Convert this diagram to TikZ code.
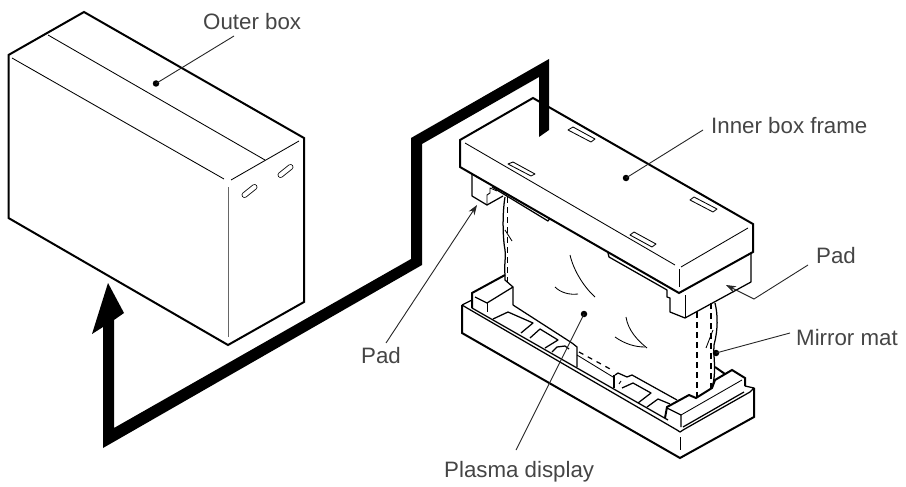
\documentclass[tikz,border=0pt]{standalone}
\usepackage{fontspec}
\setmainfont{Liberation Sans}
\usetikzlibrary{arrows.meta}
\definecolor{labelgrey}{gray}{0.27}
\tikzset{
  heavy/.style={line width=2pt,line join=miter,black},
  medium/.style={line width=1.25pt,line join=round,black},
  fine/.style={line width=0.85pt,line join=round,black},
  greyline/.style={line width=1pt,black!60},
  hidden/.style={line width=1.3pt,black,dash pattern=on 6pt off 4pt},
  leader/.style={line width=0.9pt,black!85},
  pointer/.style={leader,-{Stealth[length=10pt,width=7pt]}},
  dotmark/.style={circle,fill=black,inner sep=0pt,minimum size=6.5pt},
  lbl/.style={anchor=base west,inner sep=0pt,text=labelgrey,font=\fontsize{22.3}{26}\selectfont},
  slotbox/.style={fine,fill=white},
  handle/.style={line width=0.8pt,double=white,double distance=4.2pt,line cap=round,black},
  bigarrow/.style={fill=black,draw=none}
}
\begin{document}
\begin{tikzpicture}[x=1pt,y=-1pt]
\useasboundingbox (0,0) rectangle (906,487);
\fill[white] (0,0) rectangle (906,487);

% ---- outer box
\draw[heavy] (8.5,218) -- (228,345) -- (304,302) -- (304,138) -- (84,12) -- (8.5,55) -- cycle;
\draw[fine] (12,58) -- (224,179);
\draw[fine] (48,35) -- (265,160);
\draw[fine] (231,180) -- (299,141);
\draw[greyline] (228,187) -- (228,337);
\draw[handle] (244.5,195) -- (254.5,187);
\draw[handle] (280.5,175) -- (290.5,167);

% ---- lower tray
\draw[heavy] (462,305) -- (462,333) -- (680,458) -- (754,417) -- (754,388);
\draw[medium] (462,305) -- (472,300);
\draw[medium] (462,305) -- (467,308) -- (677,430) -- (680,432) -- (683,430) -- (750,392) -- (754,388) -- (745,386);
\draw[medium] (472,308) -- (668,420);
\draw[fine] (680,437) -- (680,450);

% left block
\draw[heavy] (472,308) -- (472,293) -- (505,275);
\draw[medium] (505,275) -- (505,280) -- (513,287) -- (513,305);
\draw[medium] (475,297) -- (487,303) -- (513,287);
\draw[fine] (487,303) -- (487,312);
% rail behind
\draw[medium] (513,305) -- (572,343) -- (577,347) -- (577,367);
% recesses
\draw[medium] (493,319) -- (508,312) -- (533,323) -- (521,333);
\draw[medium] (530,338) -- (540,329) -- (558,340) -- (545,348);
\draw[medium] (552,352) -- (557,347) -- (565,346) -- (569,349);
% dashed hidden edge
\draw[fine] (577,355) -- (613,377);
\draw[line width=1.2pt,dash pattern=on 5pt off 5pt] (579,352) -- (612,370);
% right half of tray
\draw[medium] (614,375) -- (614,388);
\draw[medium] (615,375) -- (618,373) -- (627,377) -- (632,375) -- (677,400);
\draw[medium] (622,388) -- (633,383) -- (651,393) -- (638,403);
\draw[medium] (647,407) -- (658,399) -- (670,404);
\draw[fine] (619,384) -- (621,381);

% right block
\draw[heavy] (665,418) -- (667,407) -- (689,395) -- (696,398) -- (712,388) -- (715,380) -- (732,370) -- (745,378) -- (745,386);
\draw[heavy] (715,367) -- (725,374);
\draw[medium] (667,408) -- (681,415) -- (681,427);
\draw[fine] (681,415) -- (742,380);
\draw[medium] (744,392) -- (683,427);

% ---- display / mirror mat
\draw[medium] (505,197) .. controls (502,215) and (503,240) .. (505,250) .. controls (506,258) and (504,265) .. (505,275);
\draw[fine] (505,230) -- (512,241);
\draw[hidden] (507.5,197) -- (507.5,283);
\draw[hidden] (697,312) -- (697,397);
\draw[hidden] (711,303) -- (711,390);
\draw[medium] (715,303) .. controls (718,315) and (718,330) .. (714,345) .. controls (713,358) and (717,370) .. (712,388);
\draw[fine] (706,348) -- (713,330);
\draw[fine] (570,255) .. controls (574,272) and (585,288) .. (595,297);
\draw[fine] (555,287) .. controls (561,293) and (570,295) .. (578,294);
\draw[fine] (626,317) .. controls (628,330) and (637,340) .. (647,348);
\draw[fine] (615,337) .. controls (625,344) and (635,347) .. (645,347);

% ---- pads under the frame
\draw[medium] (472,174) -- (472,196) -- (487,205) -- (503,196);
\draw[fine] (487,205) -- (487,195) -- (490,193) -- (490,188) -- (497,191);
\draw[medium] (492,187) -- (548,221) -- (550,218);
\draw[fine] (497,186) -- (550,217);
\draw[medium] (751,253) -- (751,282) -- (685,318) -- (670,312) -- (670,298) -- (667,297) -- (667,290) -- (609,257) -- (608,253);
\draw[fine] (685,295) -- (685,318);

% ---- inner box frame
\draw[heavy,fill=white] (460,140) -- (533,98) -- (753,224) -- (753,252) -- (679,293) -- (460,167) -- cycle;
\draw[fine] (465,143) -- (675,265);
\draw[fine] (681,267) -- (748,228);
\draw[fine] (679,269) -- (679,287);
\draw[slotbox] (568,130) -- (573,127) -- (595,139) -- (591,142) -- cycle;
\draw[slotbox] (508,164) -- (513,162) -- (535,174) -- (531,176) -- cycle;
\draw[slotbox] (690,200) -- (694,197) -- (717,209) -- (713,212) -- cycle;
\draw[slotbox] (630,235) -- (634,232) -- (656,244) -- (652,247) -- cycle;

% ---- big arrow
\fill[bigarrow] (108,283) -- (124,313) -- (114,320) -- (114,428) -- (411,259) -- (411,138) -- (549,59) -- (549,130) -- (539,137) -- (539,77) -- (422,144) -- (422,265) -- (103,448) -- (103,327) -- (92,334) -- cycle;

% ---- labels
\node[lbl] (outerlabel) at (203,30) {Outer box};
\node[lbl] (framelabel) at (711,133) {Inner box frame};
\node[lbl] (padright) at (816,263) {Pad};
\node[lbl] (mirrorlabel) at (796,345) {Mirror mat};
\node[lbl] (padleft) at (361,363) {Pad};
\node[lbl] (plasmalabel) at (444,477) {Plasma display};

% ---- leader anchors
\node[dotmark] (outerdot) at (156,83.5) {};
\node[dotmark] (framedot) at (626,178) {};
\node[dotmark] (plasmadot) at (584,314) {};
\node[dotmark] (mirrordot) at (716,353) {};
\coordinate (outerend) at (234,36);
\coordinate (frameend) at (703,130);
\coordinate (plasmaend) at (516,450);
\coordinate (mirrorend) at (790,333);
\coordinate (padrightend) at (808,265);
\coordinate (padrightknee) at (754,299);
\coordinate (padrighttip) at (726,285);
\coordinate (padleftend) at (386,343);
\coordinate (padlefttip) at (477,205);

\draw[leader] (outerend) -- (outerdot.center);
\draw[leader] (frameend) -- (framedot.center);
\draw[leader] (plasmaend) -- (plasmadot.center);
\draw[leader] (mirrorend) -- (mirrordot.center);
\draw[pointer] (padrightend) -- (padrightknee) -- (padrighttip);
\draw[pointer] (padleftend) -- (padlefttip);
\end{tikzpicture}
\end{document}
